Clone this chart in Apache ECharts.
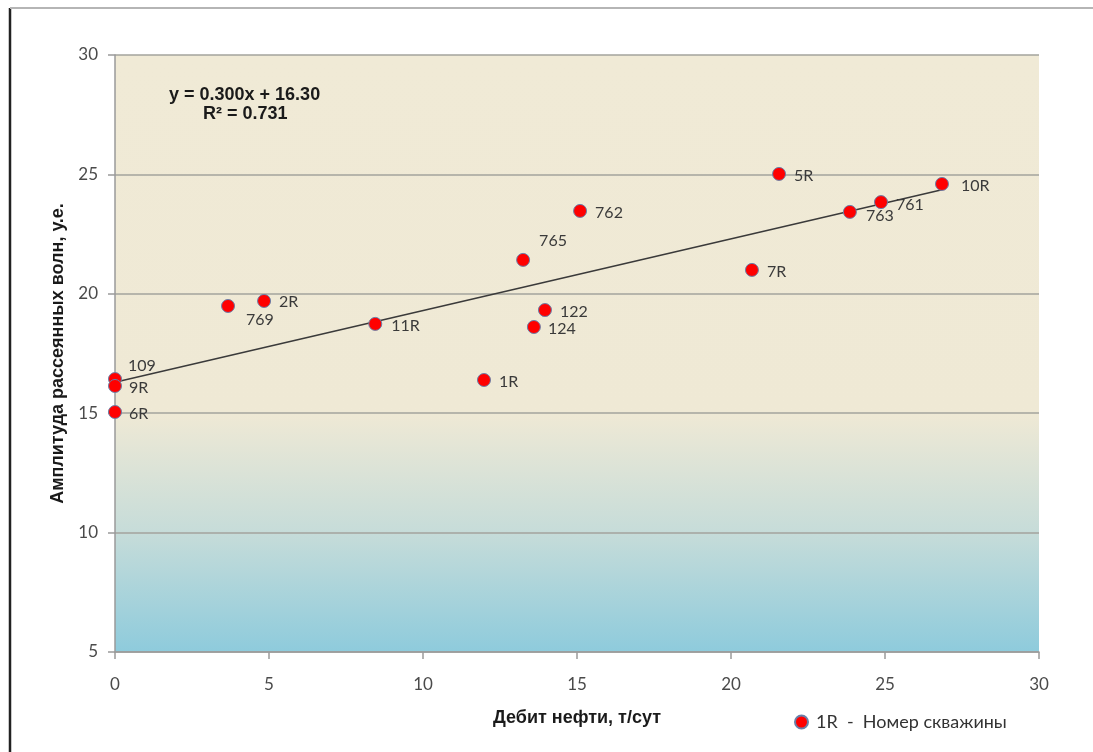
<!DOCTYPE html>
<html>
<head>
<meta charset="utf-8">
<script src="https://cdn.jsdelivr.net/npm/echarts@6/dist/echarts.min.js"></script>
<style>
html,body{margin:0;padding:0;background:#fff;}
#chart{width:1093px;height:752px;}
</style>
</head>
<body>
<div id="chart"></div>
<script>
// ---- data ----
const wellNames = ['109','9R','6R','769','2R','11R','1R','765','124','122','762','7R','5R','763','761','10R'];
const oilRate   = [0, 0, 0, 3.67, 4.84, 8.45, 11.98, 13.25, 13.6, 13.96, 15.1, 20.68, 21.56, 23.86, 24.87, 26.85];
const amplitude = [16.43, 16.14, 15.05, 19.49, 19.70, 18.74, 16.39, 21.42, 18.61, 19.32, 23.47, 21.0, 25.02, 23.43, 23.84, 24.6];
const trendSlope = 0.300;
const trendIntercept = 16.30;
const rSquared = 0.731;
const xTicks = [0, 5, 10, 15, 20, 25, 30];
const yTicks = [5, 10, 15, 20, 25, 30];

// label placement (style only)
const labelOffsets = {
  '109':[1,-13], '9R':[2,2], '6R':[2,2], '769':[6,14], '2R':[3,1], '11R':[4,2],
  '1R':[3,2], '765':[4,-19], '124':[2,2], '122':[3,2], '762':[3,2], '7R':[3,2],
  '5R':[3,2], '763':[4,4], '761':[3,3], '10R':[7,2]
};

const points = wellNames.map((n, i) => ({
  value: [oilRate[i], amplitude[i]],
  name: n,
  label: { offset: labelOffsets[n] || [0,0] }
}));

const xEnd = Math.max(...oilRate);
const trendLine = [[0, trendIntercept], [xEnd, trendSlope * xEnd + trendIntercept]];

const chart = echarts.init(document.getElementById('chart'), null, {renderer:'canvas'});
const labelFont = 'Lato, "Open Sans", sans-serif';
const boldFont = '"Liberation Sans", Arial, sans-serif';
chart.setOption({
  animation: false,
  backgroundColor: '#ffffff',
  grid: {
    left: 115, right: 54, top: 55, bottom: 100,
    show: true, borderWidth: 0,
    backgroundColor: new echarts.graphic.LinearGradient(0, 0, 0, 1, [
      {offset: 0, color: '#f0ead6'},
      {offset: 0.6, color: '#efe9d5'},
      {offset: 0.8, color: '#c6dcd9'},
      {offset: 1, color: '#8ecbdc'}
    ])
  },
  xAxis: {
    type: 'value', min: xTicks[0], max: xTicks[xTicks.length-1], interval: 5,
    name: 'Дебит нефти, т/сут', nameLocation: 'middle', nameGap: 57,
    nameTextStyle: {fontFamily: boldFont, fontWeight: 'bold', fontSize: 18, color: '#1a1a1a'},
    axisLine: {show: true, lineStyle: {color: '#9a9a9a', width: 1.5}},
    axisTick: {show: true, length: 7, lineStyle: {color: '#9a9a9a', width: 1.5}},
    axisLabel: {margin: 24, fontFamily: labelFont, fontSize: 17, color: '#4a4a4a'},
    splitLine: {show: false}
  },
  yAxis: {
    type: 'value', min: yTicks[0], max: yTicks[yTicks.length-1], interval: 5,
    name: 'Амплитуда рассеянных волн, у.е.', nameLocation: 'middle', nameGap: 47,
    nameTextStyle: {fontFamily: boldFont, fontWeight: 'bold', fontSize: 18, color: '#1a1a1a'},
    axisLine: {show: true, lineStyle: {color: '#9a9a9a', width: 1.5}},
    axisTick: {show: true, length: 7, lineStyle: {color: '#9a9a9a', width: 1.5}},
    axisLabel: {margin: 17, fontFamily: labelFont, fontSize: 17, color: '#4a4a4a'},
    splitLine: {show: true, lineStyle: {color: '#a3a39c', width: 1.5}}
  },
  legend: {
    left: 794, top: 713, padding: 0,
    itemWidth: 13, itemHeight: 13, itemGap: 9,
    textStyle: {fontFamily: labelFont, fontSize: 18, color: '#333', padding: [0,0,0,3]},
    data: [{name: '1R  -  Номер скважины', icon: 'circle'}]
  },
  series: [
    {
      type: 'line', data: trendLine, symbol: 'none', silent: true,
      lineStyle: {color: '#3a3a3a', width: 1.5}, z: 2
    },
    {
      name: '1R  -  Номер скважины',
      type: 'scatter', data: points, symbolSize: 13, z: 3,
      itemStyle: {color: '#ff0000', borderColor: '#6a7fa8', borderWidth: 1, opacity: 1},
      label: {
        show: true, position: 'right', distance: 5,
        formatter: p => p.name,
        fontFamily: labelFont, fontSize: 16, color: '#3a3a3a'
      }
    }
  ],
  graphic: [
    {type: 'line', shape: {x1: 10, y1: 8, x2: 10, y2: 752}, style: {stroke: '#222', lineWidth: 2.5}},
    {type: 'line', shape: {x1: 10, y1: 8, x2: 1093, y2: 8}, style: {stroke: '#b5b5b5', lineWidth: 2}},
    {type: 'text', left: 169, top: 86, style: {text: 'y = ' + trendSlope.toFixed(3) + 'x + ' + trendIntercept.toFixed(2), font: 'bold 18px "Liberation Sans", Arial, sans-serif', fill: '#1a1a1a'}},
    {type: 'text', left: 203, top: 105, style: {text: 'R² = ' + rSquared.toFixed(3), font: 'bold 18px "Liberation Sans", Arial, sans-serif', fill: '#1a1a1a'}}
  ]
});
</script>
</body>
</html>
